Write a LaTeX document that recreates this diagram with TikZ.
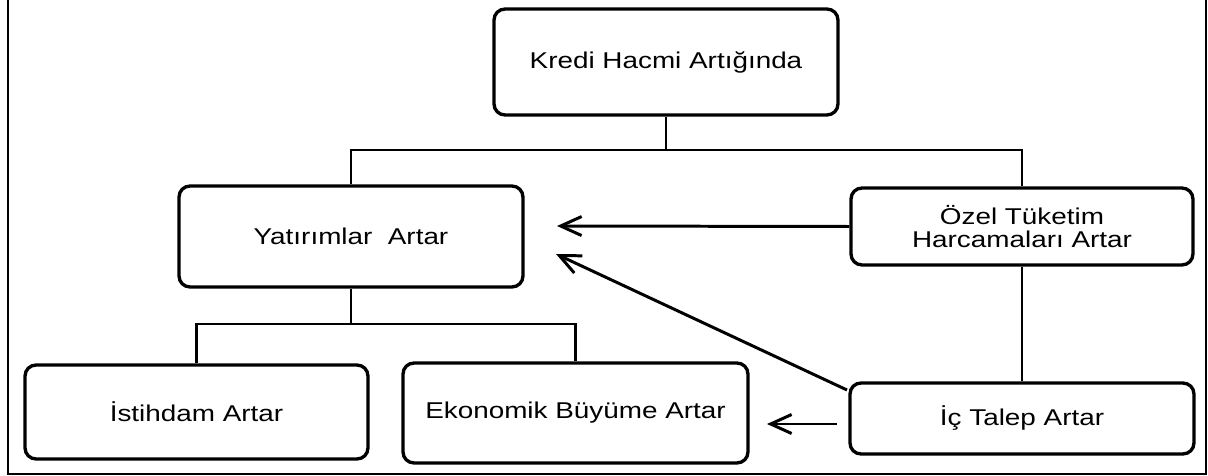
\documentclass[tikz,border=0pt]{standalone}
\usepackage{fontspec}
\setmainfont[FakeStretch=1.22]{Liberation Sans}
\usetikzlibrary{arrows.meta}
\begin{document}
\begin{tikzpicture}[x=0.02cm,y=-0.02cm,
  kutu/.style={draw,line width=1.9pt,rounded corners=0.22cm,align=center,inner sep=0pt,
    font=\fontsize{13}{13.5}\selectfont},
  hat/.style={line width=1.5pt},
  ok/.style={line width=1.7pt,-{Straight Barb[length=4.2mm,width=3.8mm,line width=1.7pt]}}]
\useasboundingbox (0,0) rectangle (1208,476);
\draw [line width=1.5pt] (8,-2)-- (8,474)-- (1206,474)-- (1206,-2);
\node[kutu,minimum width=6.88cm,minimum height=2.12cm] (kredi) at (666,62) {Kredi Hacmi Artığında};
\node[kutu,minimum width=6.88cm,minimum height=2.02cm] (yatirim) at (351,236.5) {Yatırımlar\ \ Artar};
\node[kutu,minimum width=6.84cm,minimum height=1.54cm] (ozel) at (1022,226.5) {Özel Tüketim\\Harcamaları\ Artar};
\node[kutu,minimum width=6.86cm,minimum height=1.88cm] (istihdam) at (196.5,412) {İstihdam\ Artar};
\node[kutu,minimum width=6.9cm,minimum height=2.0cm] (buyume) at (575.5,413) {Ekonomik Büyüme\ Artar};
\node[kutu,minimum width=6.88cm,minimum height=1.42cm] (talep) at (1022,418.5) {İç Talep Artar};
\coordinate (ustbag) at (666,150);
\coordinate (altbag) at (351,324);
\coordinate (yatok1) at (557,226);
\coordinate (yatok2) at (556,254);
\coordinate (talepcikis) at (847,390);
\coordinate (talepsol) at (837,424);
\coordinate (buyumeok) at (767,424);
\draw [hat] (kredi.south)-- (ustbag);
\draw [hat] (yatirim.north) |- (ustbag) -| (ozel.north);
\draw [hat] (yatirim.south)-- (altbag);
\draw [hat] (istihdam.north) |- (altbag) -| (buyume.north);
\draw [hat] (ozel.south)-- (talep.north);
\draw [ok] (ozel.west)-- (yatok1);
\draw [ok] (talepcikis)-- (yatok2);
\draw [ok] (talepsol)-- (buyumeok);
\end{tikzpicture}
\end{document}
